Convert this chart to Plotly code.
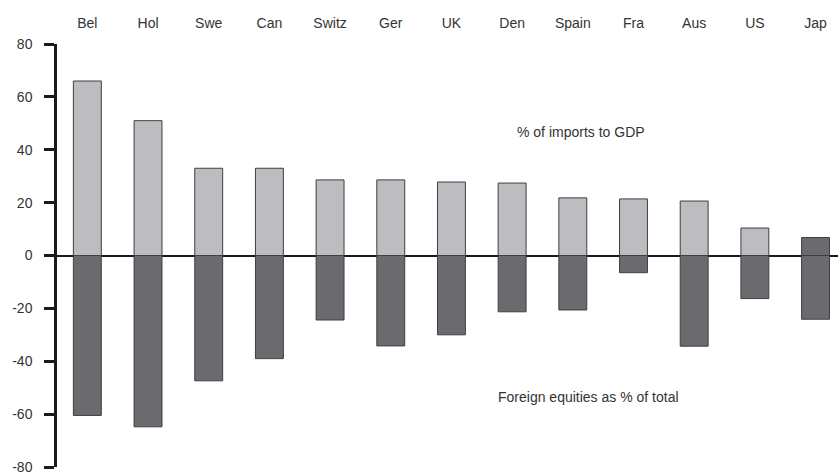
import plotly.graph_objects as go

countries = ["Bel", "Hol", "Swe", "Can", "Switz", "Ger", "UK", "Den", "Spain", "Fra", "Aus", "US", "Jap"]
imports_pct_gdp = [66, 51, 33, 33, 28.6, 28.6, 27.8, 27.4, 21.8, 21.4, 20.6, 10.4, 6.8]
foreign_equities_pct = [-60.5, -64.8, -47.4, -39, -24.4, -34.2, -30, -21.3, -20.6, -6.5, -34.3, -16.3, -24.1]
y_tick_values = [-80, -60, -40, -20, 0, 20, 40, 60, 80]
y_tick_labels = ["-80", "-60", "-40", "-20", "0", "20", "40", "60", "80"]

LIGHT = "#bdbdc1"
DARK = "#6b6b6f"
EDGE = "#3f3f42"
FONT = "Liberation Sans Narrow, Liberation Sans, Arial, sans-serif"

# Japan's import share is drawn in the darker shade
import_colors = [LIGHT] * (len(countries) - 1) + [DARK]

fig = go.Figure()
fig.add_trace(go.Bar(
    x=countries, y=imports_pct_gdp, width=0.46,
    marker=dict(color=import_colors, line=dict(color=EDGE, width=1)),
    name="% of imports to GDP",
))
fig.add_trace(go.Bar(
    x=countries, y=foreign_equities_pct, width=0.46,
    marker=dict(color=DARK, line=dict(color=EDGE, width=1)),
    name="Foreign equities as % of total",
))

fig.add_annotation(x=8.13, y=46.7, text="% of imports to GDP", showarrow=False,
                   font=dict(size=14, color="#333333", family=FONT))
fig.add_annotation(x=8.26, y=-53.5, text="Foreign equities as % of total", showarrow=False,
                   font=dict(size=14, color="#333333", family=FONT))

fig.update_layout(
    width=838, height=475,
    margin=dict(l=57, r=0, t=44, b=8),
    paper_bgcolor="white", plot_bgcolor="white",
    barmode="relative", showlegend=False,
    font=dict(family=FONT, size=14, color="#333333"),
    xaxis=dict(
        type="category", side="top", range=[-0.5, 12.37],
        showline=False, showgrid=False, zeroline=False,
        ticks="", ticklabelstandoff=12,
        tickfont=dict(size=14, color="#333333"),
    ),
    yaxis=dict(
        range=[-80, 80], tickmode="array",
        tickvals=y_tick_values, ticktext=y_tick_labels,
        showline=True, linecolor="#1a1a1a", linewidth=2.5,
        ticks="outside", ticklen=10, tickwidth=2.5, tickcolor="#1a1a1a",
        showgrid=False, zeroline=True, zerolinecolor="#1a1a1a", zerolinewidth=2,
        tickfont=dict(size=14, color="#333333"),
        ticklabelstandoff=9,
    ),
)

fig.write_html("out.html")
